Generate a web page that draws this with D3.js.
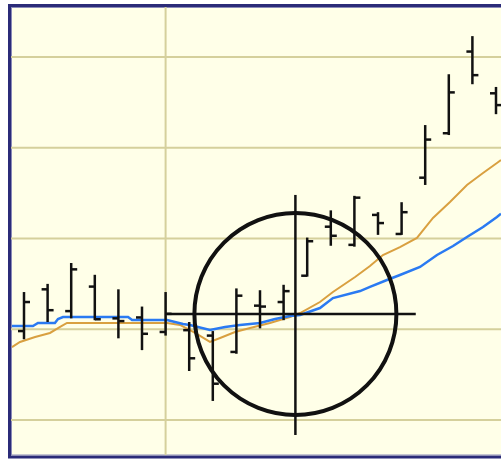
<!DOCTYPE html>
<html><head><meta charset="utf-8">
<script src="https://cdn.jsdelivr.net/npm/d3@7/dist/d3.min.js"></script>
<style>html,body{margin:0;padding:0;background:#fff;}svg{display:block;}</style>
</head><body>
<svg id="chart" width="501" height="460"></svg>
<script>
// ---- data ----
const barIndex = d3.range(21);
const highs  = [24.1,25.0,27.3,26.0,24.4,22.5,24.1,20.8,19.8,24.5,24.3,24.9,30.1,33.1,34.7,32.9,34.0,42.5,48.1,52.3,46.7];
const lows   = [18.9,20.8,21.2,21.0,19.0,17.7,19.3,15.4,12.1,17.3,20.1,21.0,25.8,29.2,29.1,30.4,30.4,35.9,41.4,47.0,43.7];
const opens  = [19.8,24.4,22.0,24.7,21.2,21.3,19.7,19.9,19.3,17.5,22.6,23.0,25.9,31.3,29.3,32.6,30.5,36.7,41.6,50.6,46.0];
const closes = [23.0,22.1,26.6,21.1,20.9,19.5,21.7,16.8,14.0,23.7,22.5,24.2,29.7,30.3,34.5,31.7,32.9,40.9,46.1,48.0,44.7];

const blueX = [-0.51,0.38,0.59,1.31,1.44,1.65,4.41,4.58,6.06,6.74,7.03,7.88,8.52,9.15,10.0,10.64,11.27,11.70,12.54,13.09,14.24,14.66,15.38,15.93,16.78,17.5,18.18,18.77,19.45,20.04,20.21];
const blueY = [20.36,20.36,20.69,20.69,21.13,21.35,21.35,21.02,21.02,20.58,20.47,19.92,20.25,20.47,20.69,21.13,21.46,21.57,22.34,23.44,24.21,24.66,25.43,25.98,26.86,28.18,29.17,30.17,31.27,32.37,32.74];
const orangeX = [-0.51,-0.17,0.47,1.10,1.53,1.82,6.06,6.61,7.25,7.88,8.31,8.94,9.58,10.42,11.27,11.70,12.54,13.09,14.03,14.66,15.21,15.93,16.65,17.33,18.05,18.77,19.45,20.04,20.21];
const orangeY = [18.04,18.60,19.15,19.59,20.25,20.69,20.69,20.47,19.59,18.60,19.04,19.70,20.14,20.69,21.35,21.79,23.0,24.10,25.76,26.97,28.18,29.06,30.06,32.26,34.02,35.90,37.22,38.32,38.65];

const gridValues = [10,20,30,40,50];
const gridIndex = [6];

// annotation (in data units)
const focusIndex = 11.5, focusValue = 21.68;
const crossV = [8.35, 34.8];   // vertical extent (values)
const crossH = [6.06, 16.6];   // horizontal extent (indices)

// ---- drawing ----
const svg = d3.select("#chart");
const x = d3.scaleLinear().domain([0,20]).range([24,496]);
const y = d3.scaleLinear().domain([10,50]).range([420,57]);

svg.append("defs").append("clipPath").attr("id","clip")
  .append("rect").attr("x",11).attr("y",7).attr("width",490).attr("height",448);

svg.append("rect").attr("x",9.5).attr("y",5.5).attr("width",500).attr("height",451.5)
  .attr("fill","#ffffe8").attr("stroke","#2b2b78").attr("stroke-width",3);
svg.append("rect").attr("x",11.5).attr("y",7.5).attr("width",496).attr("height",447.5)
  .attr("fill","none").attr("stroke","#8a8ab8").attr("stroke-width",1);

const g = svg.append("g").attr("clip-path","url(#clip)");

g.selectAll("line.hg").data(gridValues).join("line").attr("class","hg")
  .attr("x1",11).attr("x2",501).attr("y1",d=>y(d)).attr("y2",d=>y(d))
  .attr("stroke","#d5d09c").attr("stroke-width",2);
g.selectAll("line.vg").data(gridIndex).join("line").attr("class","vg")
  .attr("x1",d=>x(d)).attr("x2",d=>x(d)).attr("y1",7).attr("y2",455)
  .attr("stroke","#d5d09c").attr("stroke-width",2);

const orange = orangeX.map((v,i)=>[v,orangeY[i]]);
const blue = blueX.map((v,i)=>[v,blueY[i]]);
const line = d3.line().x(d=>x(d[0])).y(d=>y(d[1]));
g.append("path").attr("d",line(orange)).attr("fill","none").attr("stroke","#d9a040").attr("stroke-width",2);
g.append("path").attr("d",line(blue)).attr("fill","none").attr("stroke","#2a7af2").attr("stroke-width",2.5);

const bars = g.selectAll("g.bar").data(barIndex).join("g").attr("class","bar");
bars.append("line").attr("x1",i=>x(i)).attr("x2",i=>x(i))
  .attr("y1",i=>y(highs[i])).attr("y2",i=>y(lows[i]))
  .attr("stroke","#111").attr("stroke-width",2.5);
bars.append("line").attr("x1",i=>x(i)-6).attr("x2",i=>x(i))
  .attr("y1",i=>y(opens[i])).attr("y2",i=>y(opens[i]))
  .attr("stroke","#111").attr("stroke-width",2.5);
bars.append("line").attr("x1",i=>x(i)).attr("x2",i=>x(i)+6)
  .attr("y1",i=>y(closes[i])).attr("y2",i=>y(closes[i]))
  .attr("stroke","#111").attr("stroke-width",2.5);

// crosshair & circle
g.append("line").attr("x1",x(focusIndex)).attr("x2",x(focusIndex))
  .attr("y1",y(crossV[1])).attr("y2",y(crossV[0])).attr("stroke","#111").attr("stroke-width",2.5);
g.append("line").attr("x1",x(crossH[0])).attr("x2",x(crossH[1]))
  .attr("y1",y(focusValue)).attr("y2",y(focusValue)).attr("stroke","#111").attr("stroke-width",2.5);
g.append("circle").attr("cx",x(focusIndex)).attr("cy",y(focusValue)).attr("r",101)
  .attr("fill","none").attr("stroke","#111").attr("stroke-width",4);
</script>
</body></html>
